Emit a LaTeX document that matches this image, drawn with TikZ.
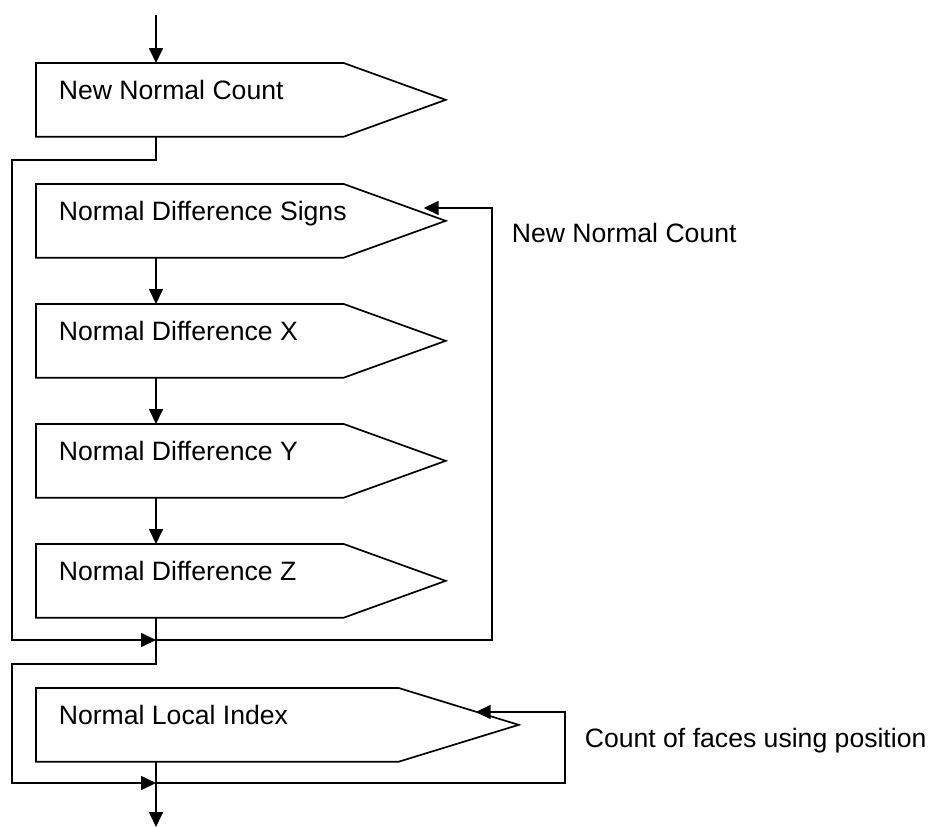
\documentclass[tikz,border=0pt]{standalone}
\usepackage{fontspec}
\setmainfont{Liberation Sans}
\usetikzlibrary{arrows.meta,calc}
\newcommand\pentag[2]{\draw (#1.north west) -- (#1.north east) -- ($(#1.east)+(#2,0)$) -- (#1.south east) -- (#1.south west) -- cycle;}
\begin{document}
\begin{tikzpicture}[x=1pt,y=-1pt,line width=1.7pt,>={Triangle[length=15pt,width=14pt]},
  box/.style={rectangle,inner sep=0pt,minimum width=306pt,minimum height=72pt,anchor=north west},
  lbl/.style={font=\fontsize{26.6}{32}\selectfont,inner sep=0pt,anchor=base west}]
\useasboundingbox (0,0) rectangle (929,827);
% boxes
\node[box] (s1) at (36,63) {};
\node[box] (s2) at (36,184) {};
\node[box] (s3) at (36,304) {};
\node[box] (s4) at (36,424) {};
\node[box] (s5) at (36,544) {};
\node[box,minimum width=361pt] (s6) at (36,688) {};
\pentag{s1}{102}
\pentag{s2}{102}
\pentag{s3}{102}
\pentag{s4}{102}
\pentag{s5}{102}
\pentag{s6}{120}
\node[lbl] (t1) at ($(s1.west)+(22,0)$) {New Normal Count};
\node[lbl] (t2) at ($(s2.west)+(22,0)$) {Normal Difference Signs};
\node[lbl] (t3) at ($(s3.west)+(22,0)$) {Normal Difference X};
\node[lbl] (t4) at ($(s4.west)+(22,0)$) {Normal Difference Y};
\node[lbl] (t5) at ($(s5.west)+(22,0)$) {Normal Difference Z};
\node[lbl] (t6) at ($(s6.west)+(22,0)$) {Normal Local Index};
\node[lbl] (n1) at (511,242) {New Normal Count};
\node[lbl] (n2) at (584,747) {Count of faces using position};
% coordinates
\coordinate (a0) at (156,15);
\coordinate (c1) at (156,160);
\coordinate (l1) at (12,160);
\coordinate (j1) at (156,640);
\coordinate (r1) at (492,208);
\coordinate (fb1) at ($(s2.north east)+(80,24)$);
\coordinate (c2) at (156,664);
\coordinate (l2) at (12,664);
\coordinate (j2) at (156,783);
\coordinate (r2) at (565,712);
\coordinate (fb2) at ($(s6.north east)+(77,24)$);
\coordinate (out) at (156,827);
% connectors
\draw[->] (a0) -- (a0 |- s1.north);
\draw[->] (a0 |- s1.south) -- (c1) -- (l1) -- (l1 |- j1) -- (j1);
\draw[->] (a0 |- s2.south) -- (a0 |- s3.north);
\draw[->] (a0 |- s3.south) -- (a0 |- s4.north);
\draw[->] (a0 |- s4.south) -- (a0 |- s5.north);
\draw[->] (j1) -| (r1) -- (fb1);
\draw[->] (a0 |- s5.south) -- (c2) -- (l2) -- (l2 |- j2) -- (j2);
\draw[->] (j2) -| (r2) -- (fb2);
\draw[->] (a0 |- s6.south) -- (out);
\end{tikzpicture}
\end{document}
